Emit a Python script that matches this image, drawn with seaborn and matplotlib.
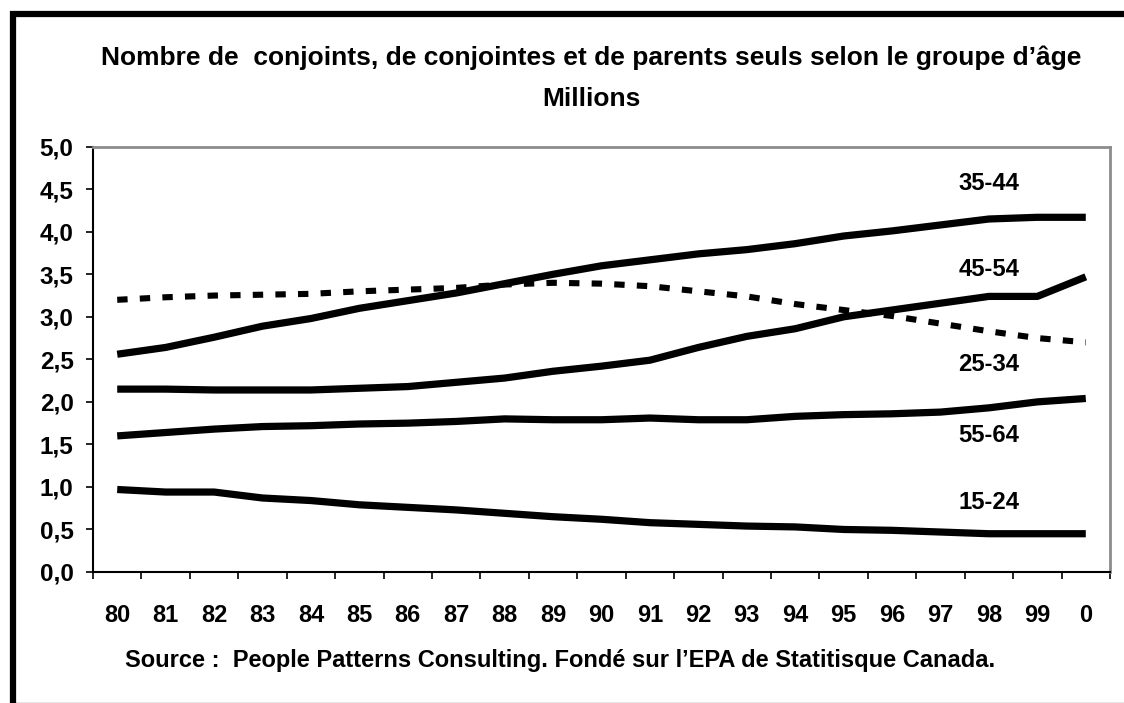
import numpy as np
import pandas as pd
import seaborn as sns
import matplotlib.pyplot as plt
from matplotlib.patches import Rectangle
from matplotlib.lines import Line2D

# %% Data (millions)

years = ['80', '81', '82', '83', '84', '85', '86', '87', '88', '89', '90',
         '91', '92', '93', '94', '95', '96', '97', '98', '99', '0']

g15_24 = [0.97, 0.94, 0.94, 0.87, 0.84, 0.79, 0.76, 0.73, 0.69, 0.65, 0.62,
          0.58, 0.56, 0.54, 0.53, 0.50, 0.49, 0.47, 0.45, 0.45, 0.45]
g25_34 = [3.20, 3.23, 3.25, 3.26, 3.27, 3.30, 3.32, 3.34, 3.38, 3.40, 3.39,
          3.36, 3.30, 3.24, 3.15, 3.08, 3.01, 2.92, 2.83, 2.75, 2.70]
g35_44 = [2.56, 2.64, 2.76, 2.89, 2.98, 3.10, 3.19, 3.28, 3.39, 3.50, 3.60,
          3.67, 3.74, 3.79, 3.86, 3.95, 4.01, 4.08, 4.15, 4.17, 4.17]
g45_54 = [2.15, 2.15, 2.14, 2.14, 2.14, 2.16, 2.18, 2.23, 2.28, 2.36, 2.42,
          2.49, 2.64, 2.77, 2.86, 3.00, 3.08, 3.16, 3.24, 3.24, 3.47]
g55_64 = [1.60, 1.64, 1.68, 1.71, 1.72, 1.74, 1.75, 1.77, 1.80, 1.79, 1.79,
          1.81, 1.79, 1.79, 1.83, 1.85, 1.86, 1.88, 1.93, 2.00, 2.04]

groups = ['15-24', '25-34', '35-44', '45-54', '55-64']
label_y = [0.82, 2.44, 4.57, 3.56, 1.60]

yticks = [0.0, 0.5, 1.0, 1.5, 2.0, 2.5, 3.0, 3.5, 4.0, 4.5, 5.0]

title1 = "Nombre de  conjoints, de conjointes et de parents seuls selon le groupe d\u2019\u00e2ge"
title2 = "Millions"
source = "Source :  People Patterns Consulting. Fond\u00e9 sur l\u2019EPA de Statitisque Canada."

# %% Long-form frame

x = np.arange(len(years))
df = pd.DataFrame({
    'x': np.tile(x, 5),
    'value': g15_24 + g25_34 + g35_44 + g45_54 + g55_64,
    'group': np.repeat(groups, len(years)),
})

# %% Plot

sns.set_style('white')
plt.rcParams['font.family'] = ['Liberation Sans', 'DejaVu Sans']
plt.rcParams['font.weight'] = 'bold'
plt.rcParams['text.color'] = 'black'
plt.rcParams['xtick.labelcolor'] = 'black'
plt.rcParams['ytick.labelcolor'] = 'black'

fig = plt.figure(figsize=(11.24, 7.03), dpi=100)
ax = fig.add_axes([93 / 1124, 131 / 703, 1017 / 1124, 425.3 / 703])

for g in groups:
    sub = df[df['group'] == g]
    if g == '25-34':
        sns.lineplot(data=sub, x='x', y='value', ax=ax, color='black',
                     lw=4.4, linestyle=(0, (1.7, 2.0)), legend=False)
    else:
        sns.lineplot(data=sub, x='x', y='value', ax=ax, color='black',
                     lw=5.2, solid_capstyle='butt', legend=False)

for g, ly in zip(groups, label_y):
    ax.text(18.0, ly, g, ha='center', va='center', fontsize=17.2,
            fontweight='bold', color='black')

ax.set_xlim(-0.5, len(years) - 0.5)
ax.set_ylim(0, 5)
ax.set_xticks(np.arange(-0.5, len(years)), labels=[])
ax.set_xticks(x, labels=years, minor=True)
ax.set_yticks(yticks, labels=[f"{v:.1f}".replace('.', ',') for v in yticks])
ax.tick_params(axis='x', which='major', direction='out', length=5,
               width=1.2, color='black', bottom=True)
ax.tick_params(axis='x', which='minor', length=0, pad=23, labelsize=17,
               labelcolor='black')
ax.tick_params(axis='y', direction='out', length=5, width=1.2,
               color='black', left=True, labelsize=17.5, pad=9,
               labelcolor='black')
for lab in ax.get_xticklabels(minor=True) + ax.get_yticklabels():
    lab.set_fontweight('bold')
ax.set_xlabel('')
ax.set_ylabel('')

for side in ['top', 'right']:
    ax.spines[side].set_color('#8c8c8c')
    ax.spines[side].set_linewidth(2)
for side in ['left', 'bottom']:
    ax.spines[side].set_color('black')
    ax.spines[side].set_linewidth(1.5)

fig.text(0.5 * (98 + 1085) / 1124, 1 - 58 / 703, title1, ha='center',
         va='center', fontsize=19, fontweight='bold', color='black')
fig.text(0.5 * (98 + 1085) / 1124, 1 - 99 / 703, title2, ha='center',
         va='center', fontsize=19, fontweight='bold', color='black')
fig.text(560 / 1124, 1 - 660 / 703, source, ha='center', va='center',
         fontsize=17, fontweight='bold', color='black')

# outer frame
fig.patches.append(Rectangle((13 / 1124, -0.05), (1125 - 13) / 1124,
                             1.05 - 14 / 703, transform=fig.transFigure,
                             fill=False, ec='black', lw=4.5, zorder=10))
fig.lines.append(Line2D([0.013, 1], [0.5 / 703, 0.5 / 703],
                        transform=fig.transFigure, color='#808080', lw=1))

fig.savefig('out.png', dpi=100)
